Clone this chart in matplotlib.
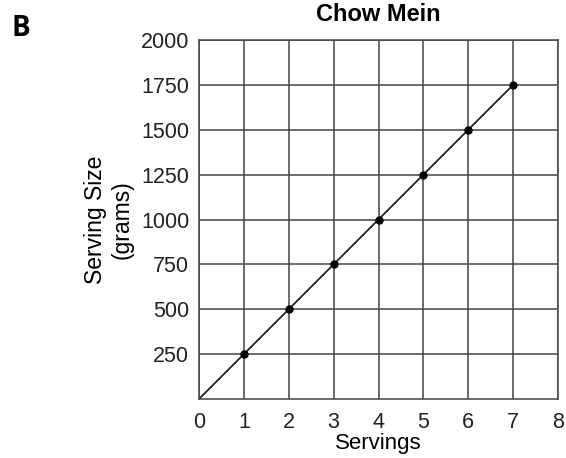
import matplotlib.pyplot as plt

servings = [1, 2, 3, 4, 5, 6, 7]
grams = [250, 500, 750, 1000, 1250, 1500, 1750]
x_ticks = [0, 1, 2, 3, 4, 5, 6, 7, 8]
y_ticks = [250, 500, 750, 1000, 1250, 1500, 1750, 2000]

plt.rcParams["font.family"] = ["Liberation Sans", "DejaVu Sans"]

fig = plt.figure(figsize=(5.66, 4.58), dpi=100)
ax = fig.add_axes([199 / 566, 1 - 399 / 458, 359 / 566, 359 / 458])

# line starts at origin, markers only at the data points
ax.plot([0] + servings, [0] + grams, color="#222222", linewidth=1.3)
ax.plot(servings, grams, "o", color="black", markersize=5)

ax.set_xlim(0, 8)
ax.set_ylim(0, 2000)
ax.set_xticks(x_ticks)
ax.set_yticks(y_ticks)
ax.tick_params(length=0, labelsize=15.5, colors="#222222")
ax.tick_params(axis="x", pad=9)
ax.tick_params(axis="y", pad=7)
ax.grid(True, color="#444444", linewidth=1.1)
ax.set_axisbelow(True)
for s in ax.spines.values():
    s.set_color("#444444")
    s.set_linewidth(1.1)

ax.set_title("Chow Mein", fontsize=17, fontweight="bold", pad=14)
ax.set_xlabel("Servings", fontsize=16, labelpad=0)
ax.set_ylabel("Serving Size\n(grams)", fontsize=16.5, labelpad=5, linespacing=1.2)

fig.text(12 / 566, 1 - 28 / 458, "B", fontsize=20, fontweight="bold",
         family=["Open Sans", "DejaVu Sans"], va="center", ha="left")

fig.savefig("out.png", dpi=100)
